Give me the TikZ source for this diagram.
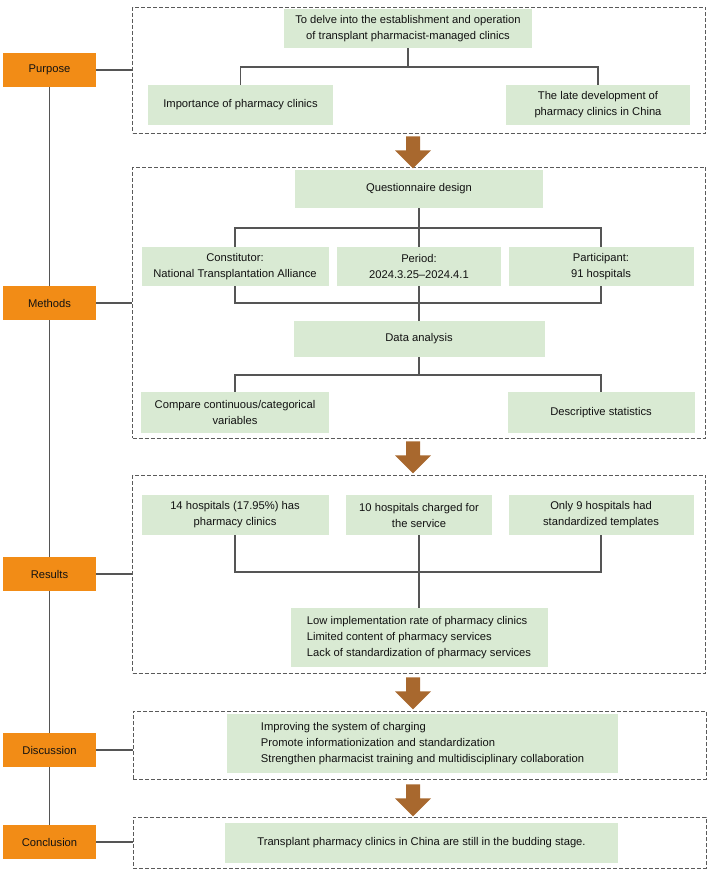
\documentclass[tikz,border=0pt]{standalone}
\usepackage{fontspec}
\setmainfont{Liberation Sans}
\definecolor{gfill}{HTML}{D9EAD3}
\definecolor{ofill}{HTML}{F28C16}
\definecolor{brownc}{HTML}{A8682E}
\definecolor{dgray}{HTML}{5A5A5A}
\definecolor{lgray}{HTML}{555555}
\definecolor{txt}{HTML}{121212}
\tikzset{
  gb/.style 2 args={fill=gfill, text=txt, inner sep=0pt, align=center, minimum width=#1pt, minimum height=#2pt},
  obox/.style={fill=ofill, text=txt, inner sep=0pt, minimum width=93pt, minimum height=34pt},
  dbox/.style={draw=dgray, dash pattern=on 4pt off 2pt, line width=0.9pt, inner sep=0pt, minimum width=573pt},
  conn/.style={draw=lgray, line width=1.1pt},
  bigarr/.pic={\fill[brownc] (-7,0) -- (7,0) -- (7,14) -- (18,14) -- (0,32) -- (-18,14) -- (-7,14) -- cycle;}
}
\begin{document}
\begin{tikzpicture}[x=1pt,y=-1pt, font=\fontsize{11.2}{16}\selectfont]
\useasboundingbox (0,0) rectangle (709,875);
% dashed frames
\node[dbox, minimum height=126pt] (pbox) at (419,70) {};
\node[dbox, minimum height=271pt] (mbox) at (419,302.5) {};
\node[dbox, minimum height=198pt] (rbox) at (419,574) {};
\node[dbox, minimum height=68pt] (dbx) at (419.5,745) {};
\node[dbox, minimum height=51pt] (cbx) at (419.5,842.5) {};
% orange labels
\node[obox] (purpose) at (49.5,70) {Purpose};
\node[obox] (methods) at (49.5,303) {Methods};
\node[obox] (results) at (49.5,574) {Results};
\node[obox] (discussion) at (49.5,750) {Discussion};
\node[obox] (conclusion) at (49.5,842) {Conclusion};
\draw[conn] (purpose) -- (methods);
\draw[conn] (methods) -- (results);
\draw[conn] (results) -- (discussion);
\draw[conn] (discussion) -- (conclusion);
\draw[conn] (purpose.east) -- (purpose.east -| pbox.west);
\draw[conn] (methods.east) -- (methods.east -| mbox.west);
\draw[conn] (results.east) -- (results.east -| rbox.west);
\draw[conn] (discussion.east) -- (discussion.east -| dbx.west);
\draw[conn] (conclusion.east) -- (conclusion.east -| cbx.west);
% Purpose
\node[gb={248}{39}] (delve) at (408,28.5) {To delve into the establishment and operation\\of transplant pharmacist-managed clinics};
\node[gb={185}{40}] (imp) at (240.5,105) {Importance of pharmacy clinics};
\node[gb={184}{40}] (late) at (598,105) {The late development of\\pharmacy clinics in China};
\coordinate (j1) at (408,67);
\draw[conn] (delve.south) -- (j1);
\draw[conn] (imp.north) |- (j1) -| (late.north);
% Methods
\node[gb={248}{38}] (qd) at (419,189) {Questionnaire design};
\node[gb={187}{39}] (con) at (235,266.5) {Constitutor:\\National Transplantation Alliance};
\node[gb={164}{39}] (per) at (419,266.5) {Period:\\2024.3.25–2024.4.1};
\node[gb={185}{39}] (par) at (601,266.5) {Participant:\\91 hospitals};
\node[gb={251}{36}] (da) at (419,339) {Data analysis};
\node[gb={188}{41}] (cmp) at (235,412.5) {Compare continuous/categorical\\variables};
\node[gb={187}{41}] (desc) at (601,412.5) {Descriptive statistics};
\coordinate (j2) at (419,228);
\coordinate (j3) at (419,303);
\coordinate (j4) at (419,375);
\draw[conn] (qd.south) -- (j2);
\draw[conn] (con.north) |- (j2) -| (par.north);
\draw[conn] (j2) -- (per.north);
\draw[conn] (con.south) |- (j3) -| (par.south);
\draw[conn] (per.south) -- (j3);
\draw[conn] (j3) -- (da.north);
\draw[conn] (da.south) -- (j4);
\draw[conn] (cmp.north) |- (j4) -| (desc.north);
% Results
\node[gb={187}{40}] (r1) at (235,515) {14 hospitals (17.95\%) has\\pharmacy clinics};
\node[gb={146}{40}] (r2) at (419,515) {10 hospitals charged for\\the service};
\node[gb={185}{40}] (r3) at (601,515) {Only 9 hospitals had\\standardized templates};
\node[gb={257}{59}, align=left] (rb) at (419,637.5) {Low implementation rate of pharmacy clinics\\Limited content of pharmacy services\\Lack of standardization of pharmacy services};
\coordinate (j5) at (419,572);
\draw[conn] (r1.south) |- (j5) -| (r3.south);
\draw[conn] (r2.south) -- (j5);
\draw[conn] (j5) -- (rb.north);
% Discussion
\node[gb={391}{59}, align=left] (db) at (422.5,743.5) {Improving the system of charging\\Promote informationization and standardization\\Strengthen pharmacist training and multidisciplinary collaboration};
% Conclusion
\node[gb={393}{40}] (cb) at (421.5,843) {Transplant pharmacy clinics in China are still in the budding stage.};
% big arrows
\pic at ([xshift=-6pt,yshift=-3pt]pbox.south) {bigarr};
\pic at ([xshift=-6pt,yshift=-3pt]mbox.south) {bigarr};
\pic at ([xshift=-6pt,yshift=-4pt]rbox.south) {bigarr};
\pic at ([xshift=-6.5pt,yshift=-5pt]dbx.south) {bigarr};
\end{tikzpicture}
\end{document}
